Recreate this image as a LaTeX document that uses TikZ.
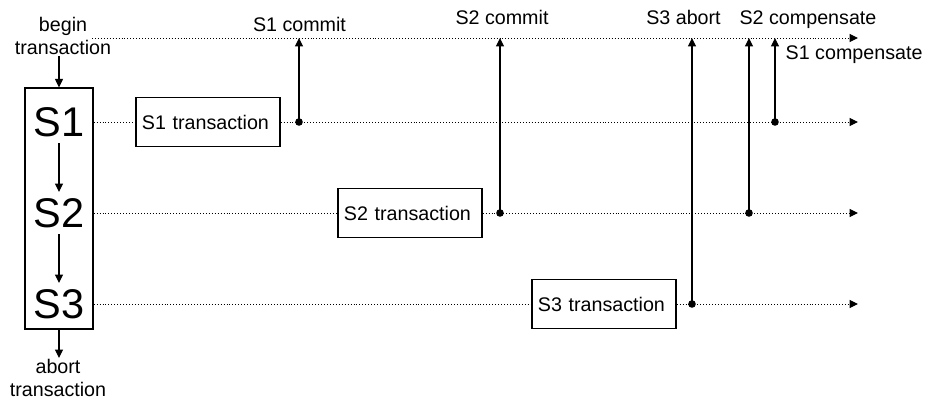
\documentclass[tikz,border=0pt]{standalone}
\usepackage{fontspec}
\setmainfont{Liberation Sans}
\usetikzlibrary{arrows.meta}

\tikzset{
  arr/.style={line width=0.8pt, -{Triangle[length=0.21cm,width=0.2cm]}},
  timeline/.style={line width=0.7pt, dash pattern=on 0.7pt off 1.4pt},
  lbl/.style={inner sep=1pt, font=\fontsize{14}{16}\selectfont},
  bigs/.style={inner sep=4.3pt, font=\fontsize{29.5}{32}\selectfont},
  txbox/.style={draw, line width=0.9pt, fill=white, lbl, inner xsep=0.15cm,
    text width=3.3cm, align=left, minimum height=1.23cm},
}

\begin{document}
\begin{tikzpicture}[x=0.025cm,y=-0.025cm]
  \useasboundingbox (0,0) rectangle (928,400);

  % steps of the saga
  \node[draw, line width=0.9pt, minimum width=1.7cm, minimum height=6.025cm] (stack) at (59,208.5) {};
  \foreach \i/\y/\tx/\dx in {1/122/208/299, 2/213/410/500, 3/304/604/692}{
    \node[bigs] (s\i) at (59,\y) {S\i};
    \node[txbox] (t\i) at (\tx,\y) {S\i\ transaction};
    \coordinate (d\i) at (\dx,\y);
    \coordinate (e\i) at (858,\y);
    \draw[timeline] (stack.east |- s\i) -- (t\i.west);
    \draw[timeline, arr, line width=0.7pt] (t\i.east) -- (e\i);
    \fill (d\i) circle (2.7pt);
  }
  \draw[arr] (s1.south) -- (s2.north);
  \draw[arr] (s2.south) -- (s3.north);

  % global log line
  \coordinate (top0) at (92,38);
  \coordinate (top1) at (858,38);
  \draw[timeline, arr, line width=0.7pt] (top0) -- (top1);

  \node[lbl, align=center, anchor=south] (begin) at (63,56) {begin\\transaction};
  \draw[arr] (stack.north |- begin.south) -- (stack.north);
  \node[lbl, align=center, anchor=north] (abort) at (58,358) {abort\\transaction};
  \draw[arr] (stack.south) -- (stack.south |- abort.north);

  % compensation points
  \coordinate (c1) at (775,122);
  \coordinate (c2) at (749,213);
  \fill (c1) circle (2.7pt);
  \fill (c2) circle (2.7pt);

  \foreach \p in {d1,d2,d3,c2,c1}
    \draw[arr] (\p) -- (\p |- top0);

  \node[lbl, anchor=base] (commit1) at (299.5,32) {S1 commit};
  \node[lbl, anchor=base] (commit2) at (502,25) {S2 commit};
  \node[lbl, anchor=base] (abort3) at (683.5,25) {S3 abort};
  \node[lbl, anchor=base] (comp2) at (808,25) {S2 compensate};
  \node[lbl, anchor=base west] (comp1) at (784,60) {S1 compensate};
\end{tikzpicture}
\end{document}
